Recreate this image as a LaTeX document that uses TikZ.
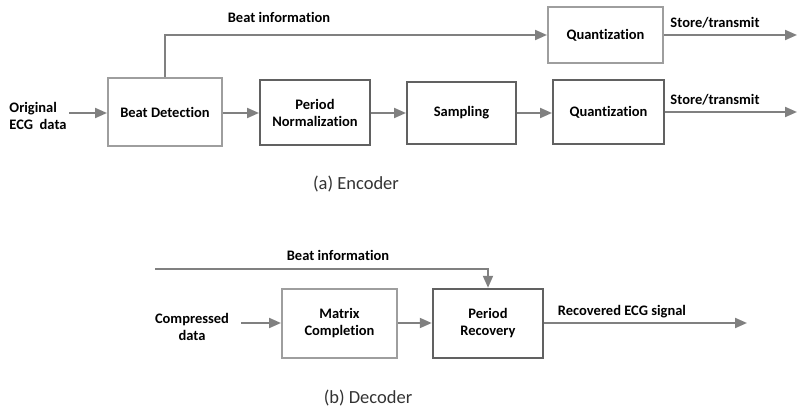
\documentclass[tikz,border=0pt]{standalone}
\usepackage{fontspec}
\setmainfont{Carlito}[Ligatures=NoCommon]
\usetikzlibrary{arrows.meta}
\begin{document}
\begin{tikzpicture}[x=1pt,y=-1pt,
  arr/.style={draw=black!50, line width=2pt, -{Triangle[length=12pt,width=10pt]}},
  lbox/.style={draw=black!38, line width=2pt, fill=white, align=center, font=\bfseries\fontsize{14.5}{17}\selectfont, inner sep=0pt},
  dbox/.style={draw=black!62, line width=2pt, fill=white, align=center, font=\bfseries\fontsize{14.5}{17}\selectfont, inner sep=0pt},
  lbl/.style={font=\bfseries\fontsize{14.5}{16.5}\selectfont, inner sep=0pt},
  captxt/.style={font=\fontsize{18.5}{22}\selectfont, text=black!80, inner sep=0pt}]
\useasboundingbox (0,0) rectangle (797,414);
% Encoder
\node[lbox, minimum width=114pt, minimum height=68pt] (bd) at (165,112) {Beat Detection};
\node[dbox, minimum width=110pt, minimum height=65pt] (pn) at (315,112.5) {Period\\Normalization};
\node[dbox, minimum width=109pt, minimum height=62pt] (samp) at (461.5,113) {Sampling};
\node[dbox, minimum width=111pt, minimum height=64pt] (q2) at (608.5,112) {Quantization};
\node[lbox, minimum width=115pt, minimum height=56pt] (q1) at (605.5,35) {Quantization};
\node[lbl, align=left] (orig) at (38,116) {Original\\ECG\ \ data};
\coordinate (a0) at (69,113);
\coordinate (o1) at (797,35);
\coordinate (o2) at (797,112);
\draw[arr] (a0) -- (bd.west |- a0);
\draw[arr] (bd.east |- a0) -- (pn.west |- a0);
\draw[arr] (pn.east |- a0) -- (samp.west |- a0);
\draw[arr] (samp.east |- a0) -- (q2.west |- a0);
\draw[arr] (q2.east |- o2) -- (o2);
\draw[arr] (bd.north) |- (q1.west);
\draw[arr] (q1.east) -- (o1);
\node[lbl] (bi1) at (279,17) {Beat information};
\node[lbl] (st1) at (715,23) {Store/transmit};
\node[lbl] (st2) at (715,100) {Store/transmit};
\node[captxt] (capa) at (356,184) {(a) Encoder};
% Decoder
\node[lbox, minimum width=115pt, minimum height=69pt] (mc) at (339.5,323.5) {Matrix\\Completion};
\node[dbox, line width=2.5pt, minimum width=110pt, minimum height=69pt] (pr) at (488,323.5) {Period\\Recovery};
\node[lbl, align=center] (cd) at (192,327) {Compressed\\data};
\coordinate (c0) at (241,323);
\coordinate (bs) at (155,269);
\coordinate (re) at (747,323);
\draw[arr] (c0) -- (mc.west |- c0);
\draw[arr] (mc.east |- c0) -- (pr.west |- c0);
\draw[arr] (pr.east |- re) -- (re);
\draw[arr] (bs) -| (pr.north);
\node[lbl] (bi2) at (338,255) {Beat information};
\node[lbl] (rs) at (622,312) {Recovered ECG signal};
\node[captxt] (capb) at (368,398) {(b) Decoder};
\end{tikzpicture}
\end{document}
